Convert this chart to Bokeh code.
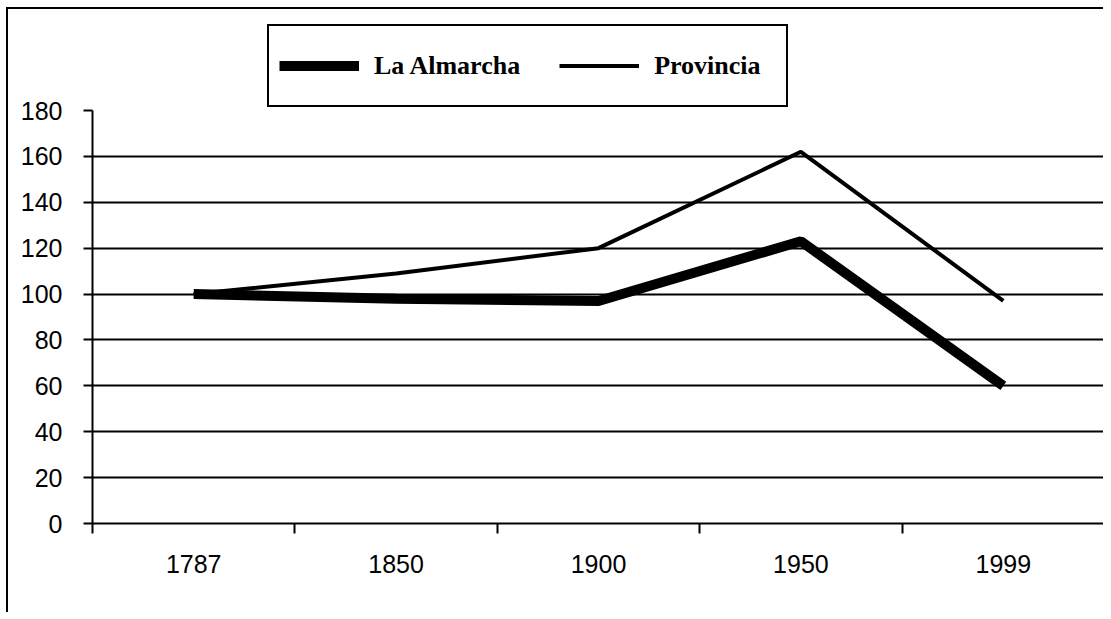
from bokeh.plotting import figure
from bokeh.models import Legend, LegendItem, FixedTicker, Range1d
from bokeh.embed import file_html
from bokeh.resources import INLINE

# ---- data ----
years = ["1787", "1850", "1900", "1950", "1999"]
almarcha = [100, 98, 97, 123, 60]
provincia = [100, 109, 120, 162, 97]
series_names = ["La Almarcha", "Provincia"]
yticks = [0, 20, 40, 60, 80, 100, 120, 140, 160, 180]
grid_values = [20, 40, 60, 80, 100, 120, 140, 160]

n = len(years)
xs = [i + 0.5 for i in range(n)]
centers = [i + 0.5 for i in range(n)]
bounds = [float(i) for i in range(n + 1)]

# layout (pixels): the frame also holds the legend strip above the axis
frame_h = 501          # whole frame height
axis_h = 413           # height used by 0..180
y_top = yticks[-1] * frame_h / axis_h

p = figure(width=1097, height=605,
           x_range=Range1d(0, n), y_range=Range1d(yticks[0], y_top),
           output_backend="svg", toolbar_location=None,
           min_border_left=84, min_border_right=1,
           min_border_top=13, min_border_bottom=91)
p.styles = {"border-left": "2px solid black", "border-top": "2px solid black",
            "margin-left": "6px", "margin-top": "7px"}
p.outline_line_color = None
p.background_fill_color = "white"
p.border_fill_color = "white"

r1 = p.line(xs, almarcha, line_width=10, line_color="black")
r2 = p.line(xs, provincia, line_width=4, line_color="black")

# x axis: labels at category centres, tick marks at boundaries
xa = p.xaxis[0]
xa.ticker = FixedTicker(ticks=centers, minor_ticks=bounds)
xa.major_label_overrides = {c: y for c, y in zip(centers, years)}
xa.major_tick_in = 0
xa.major_tick_out = 0
xa.minor_tick_in = 0
xa.minor_tick_out = 10
xa.minor_tick_line_width = 2
xa.minor_tick_line_color = "black"
xa.axis_line_width = 2
xa.axis_line_color = "black"
xa.major_label_text_font = "Liberation Sans"
xa.major_label_text_font_size = "25px"
xa.major_label_text_color = "black"
xa.major_label_standoff = 21

ya = p.yaxis[0]
ya.ticker = FixedTicker(ticks=yticks)
ya.bounds = (yticks[0], yticks[-1])
ya.major_tick_in = 0
ya.major_tick_out = 9
ya.minor_tick_out = 0
ya.minor_tick_in = 0
ya.major_tick_line_width = 2
ya.major_tick_line_color = "black"
ya.axis_line_width = 2
ya.axis_line_color = "black"
ya.major_label_text_font = "Liberation Sans"
ya.major_label_text_font_size = "25px"
ya.major_label_text_color = "black"
ya.major_label_standoff = 21

p.xgrid.visible = False
p.ygrid.ticker = FixedTicker(ticks=grid_values)
p.ygrid.grid_line_color = "black"
p.ygrid.grid_line_width = 2
p.ygrid.grid_line_alpha = 1

legend = Legend(
    items=[LegendItem(label=series_names[0], renderers=[r1]),
           LegendItem(label=series_names[1], renderers=[r2])],
    orientation="horizontal", location=(175, 416),
    padding=10, spacing=39, margin=0,
    glyph_width=80, glyph_height=59, label_height=59, label_width=122,
    label_standoff=15,
    border_line_color="black", border_line_width=2, border_line_alpha=1,
    background_fill_color="white", background_fill_alpha=1,
    label_text_font="Liberation Serif", label_text_font_style="bold",
    label_text_font_size="26px", label_text_color="black",
)
p.add_layout(legend)

open("out.html", "w").write(file_html(p, INLINE))
